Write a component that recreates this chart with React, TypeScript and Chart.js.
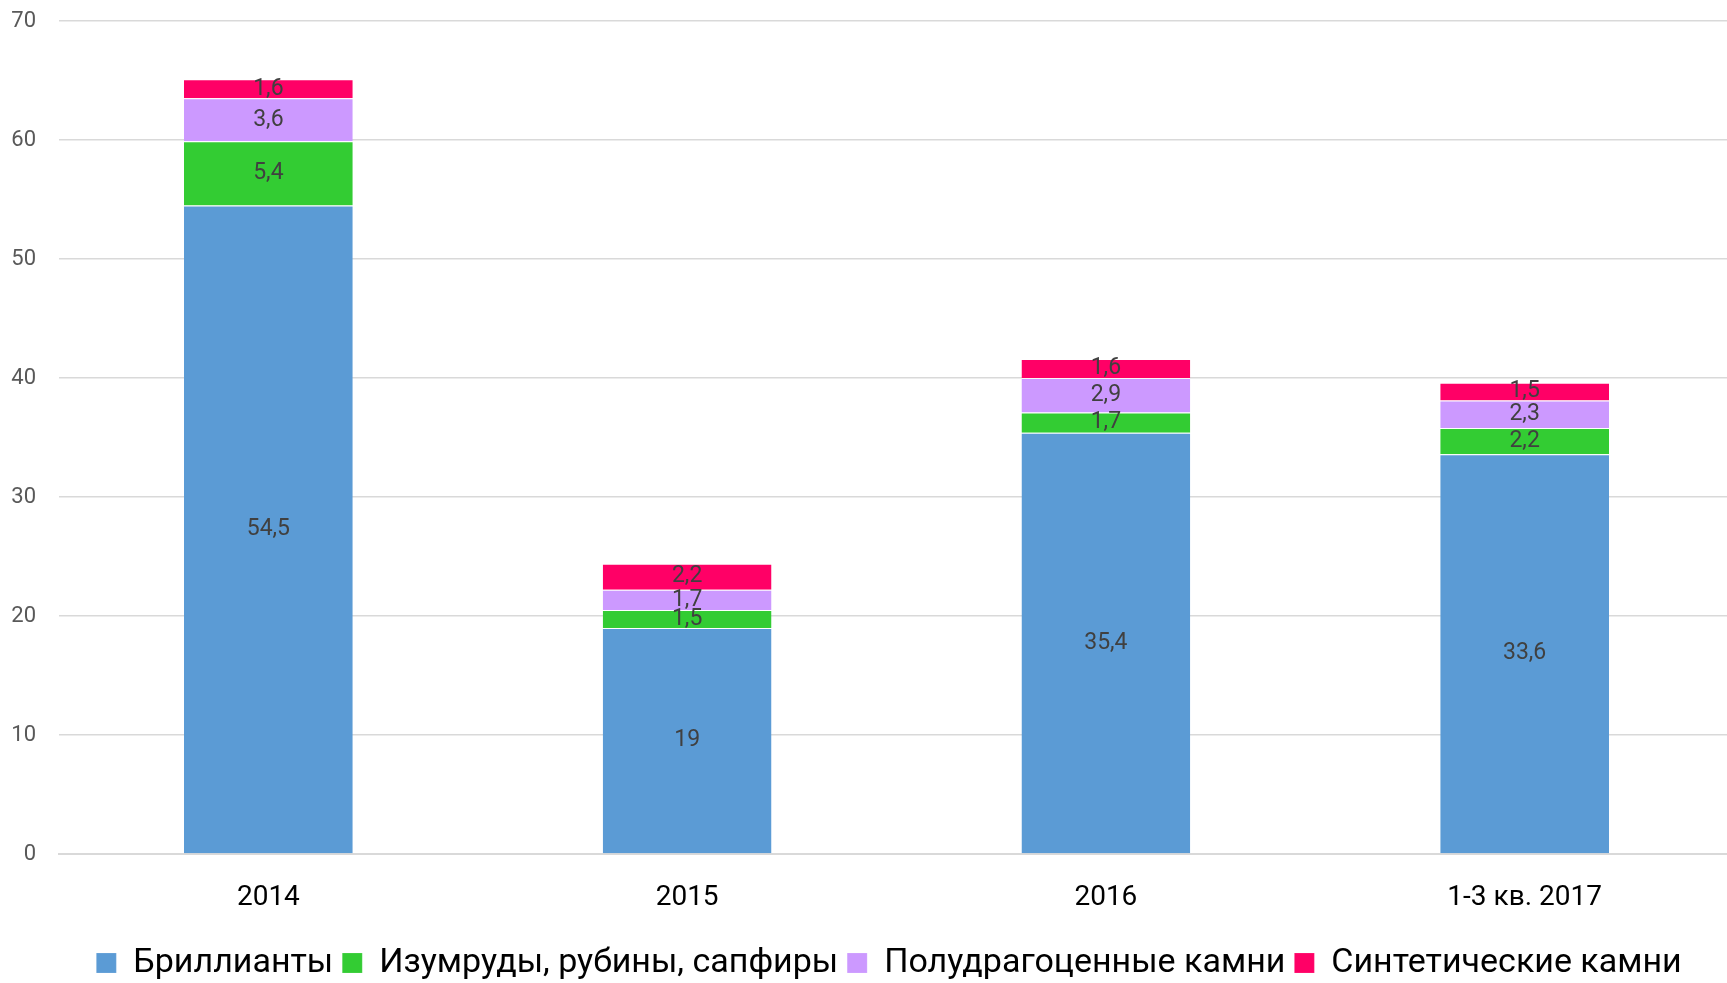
import React, { useEffect, useRef } from "react";
import { Chart, registerables } from "chart.js";

Chart.register(...registerables);

const categories = ["2014", "2015", "2016", "1-3 кв. 2017"];
const seriesNames = [
  "Бриллианты",
  "Изумруды, рубины, сапфиры",
  "Полудрагоценные камни",
  "Синтетические камни",
];
const diamonds = [54.5, 19, 35.4, 33.6];
const gems = [5.4, 1.5, 1.7, 2.2];
const semiPrecious = [3.6, 1.7, 2.9, 2.3];
const synthetic = [1.6, 2.2, 1.6, 1.5];
const colors = ["#5B9BD5", "#33CC33", "#CC99FF", "#FF0066"];
const yTicks = [0, 10, 20, 30, 40, 50, 60, 70];

const FONT = "Roboto, 'Noto Sans', sans-serif";

const valueLabels = {
  id: "valueLabels",
  afterDatasetsDraw(chart: any) {
    const ctx = chart.ctx;
    ctx.save();
    ctx.font = `23px ${FONT}`;
    ctx.fillStyle = "#404040";
    ctx.textAlign = "center";
    ctx.textBaseline = "middle";
    chart.data.datasets.forEach((ds: any, i: number) => {
      const meta = chart.getDatasetMeta(i);
      meta.data.forEach((bar: any, j: number) => {
        const v = ds.data[j];
        const cy = (bar.y + bar.base) / 2;
        ctx.fillText(String(v).replace(".", ","), bar.x, cy);
      });
    });
    ctx.restore();
  },
};

const legendShift = {
  id: "legendShift",
  afterLayout(chart: any) {
    const lg = chart.legend;
    if (lg) {
      lg.left += 22;
      lg.right += 22;
    }
  },
};

const W = 1734;
const H = 983;

export default function App() {
  const ref = useRef<HTMLCanvasElement | null>(null);
  useEffect(() => {
    if (!ref.current) return;
    const all = [diamonds, gems, semiPrecious, synthetic];
    const chart = new Chart(ref.current, {
      type: "bar",
      data: {
        labels: categories,
        datasets: all.map((d, i) => ({
          label: seriesNames[i],
          data: d,
          backgroundColor: colors[i],
          borderColor: "rgba(255,255,255,0.6)",
          borderWidth: { top: 1, bottom: 0, left: 0, right: 0 },
          borderSkipped: false,
          categoryPercentage: 1,
          barPercentage: 0.403,
        })),
      },
      options: {
        animation: false,
        responsive: false,
        maintainAspectRatio: false,
        layout: { padding: { top: 0, right: 0, bottom: -7, left: 0 } },
        scales: {
          x: {
            stacked: true,
            grid: { display: false, drawTicks: false },
            border: { display: true, color: "#D9D9D9", width: 2 },
            ticks: {
              color: "#000000",
              font: { family: FONT, size: 28 },
              padding: 27,
            },
            afterFit: (s: any) => {
              s.height = 83;
            },
          },
          y: {
            stacked: true,
            min: 0,
            max: 70,
            afterBuildTicks: (s: any) => {
              s.ticks = yTicks.map((v) => ({ value: v }));
            },
            grid: { color: "#D9D9D9", lineWidth: 1.5, drawTicks: false },
            border: { display: false },
            ticks: {
              color: "#595959",
              font: { family: FONT, size: 22 },
              padding: 23,
            },
            afterFit: (s: any) => {
              s.width = 59;
              s.paddingTop = 21;
              s.paddingBottom = 0;
            },
          },
        },
        plugins: {
          legend: {
            position: "bottom",
            labels: {
              color: "#000000",
              font: { family: FONT, size: 34 },
              boxWidth: 20,
              boxHeight: 20,
              padding: 9,
            },
          },
          tooltip: { enabled: false },
        },
      },
      plugins: [valueLabels, legendShift],
    });
    return () => chart.destroy();
  }, []);
  return (
    <div style={{ position: "fixed", left: 0, top: 0, width: 1727, height: 983, overflow: "hidden", background: "#fff" }}>
      <canvas ref={ref} width={W} height={H} style={{ width: W, height: H, display: "block" }} />
    </div>
  );
}
